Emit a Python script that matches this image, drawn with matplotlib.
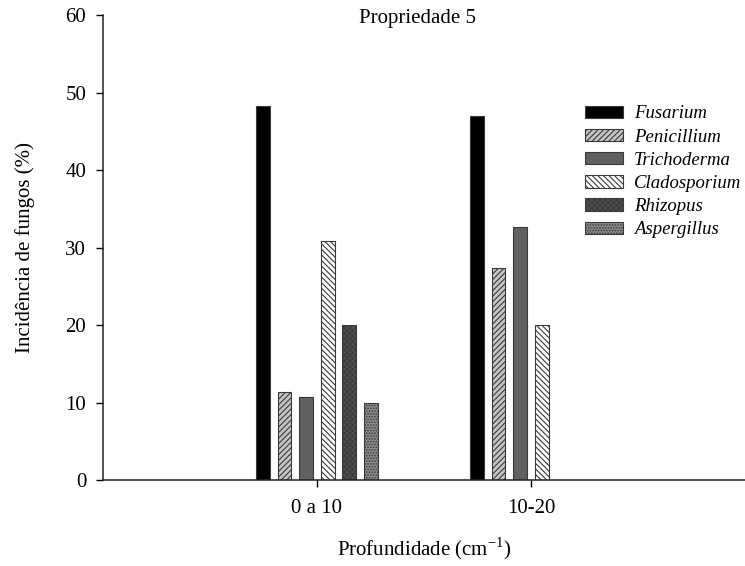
import numpy as np
import matplotlib
matplotlib.use("Agg")
import matplotlib.pyplot as plt

plt.rcParams['font.family'] = ['Liberation Serif', 'DejaVu Serif']
plt.rcParams['hatch.linewidth'] = 0.8

depths = ["0 a 10", "10-20"]
species = ["Fusarium", "Penicillium", "Trichoderma", "Cladosporium", "Rhizopus", "Aspergillus"]
fusarium = [48.3, 47.0]
penicillium = [11.3, 27.4]
trichoderma = [10.7, 32.6]
cladosporium = [30.8, 20.0]
rhizopus = [20.0, 0.0]
aspergillus = [10.0, 0.0]

series = [fusarium, penicillium, trichoderma, cladosporium, rhizopus, aspergillus]
faces = ["#000000", "#c4c4c4", "#606060", "#ffffff", "#505050", "#8a8a8a"]
hatches = [None, "//////", None, "\\\\\\\\\\\\", "xxxxxx", "......"]

fig = plt.figure(figsize=(7.45, 5.66), dpi=100)
ax = fig.add_axes([0.138, 0.152, 0.862, 0.821])

x = np.arange(1, len(depths) + 1)
step = 0.101
width = 0.064
for i, vals in enumerate(series):
    vals = np.array(vals)
    keep = vals > 0
    ax.bar(x[keep] + (i - 2.5) * step, vals[keep], width,
           color=faces[i], hatch=hatches[i], edgecolor="#3a3a3a",
           linewidth=0.8, label=species[i])

ax.set_xlim(0, 3)
ax.set_ylim(0, 60)
ax.set_xticks(x)
ax.set_xticklabels(depths)
ax.set_yticks(range(0, 61, 10))
ax.tick_params(labelsize=15, length=5, width=1)
ax.tick_params(axis='x', pad=9)
ax.tick_params(axis='y', pad=7)
ax.spines['top'].set_visible(False)
ax.spines['right'].set_visible(False)
for s in ['left', 'bottom']:
    ax.spines[s].set_linewidth(1.1)
    ax.spines[s].set_color("#222222")

ax.set_ylabel("Incidência de fungos (%)", fontsize=15, labelpad=22)
ax.set_xlabel("Profundidade (cm$^{\\mathregular{-1}}$)", fontsize=15, labelpad=12)
ax.text(0.49, 0.993, "Propriedade 5", transform=ax.transAxes,
        ha="center", va="center", fontsize=15)

leg = ax.legend(loc="upper left", bbox_to_anchor=(0.751, 0.806), frameon=False,
                prop={'style': 'italic', 'size': 13.5}, handlelength=2.0,
                handleheight=0.65, labelspacing=0.33, handletextpad=0.62,
                borderpad=0, borderaxespad=0)

fig.savefig("out.png", dpi=100)
